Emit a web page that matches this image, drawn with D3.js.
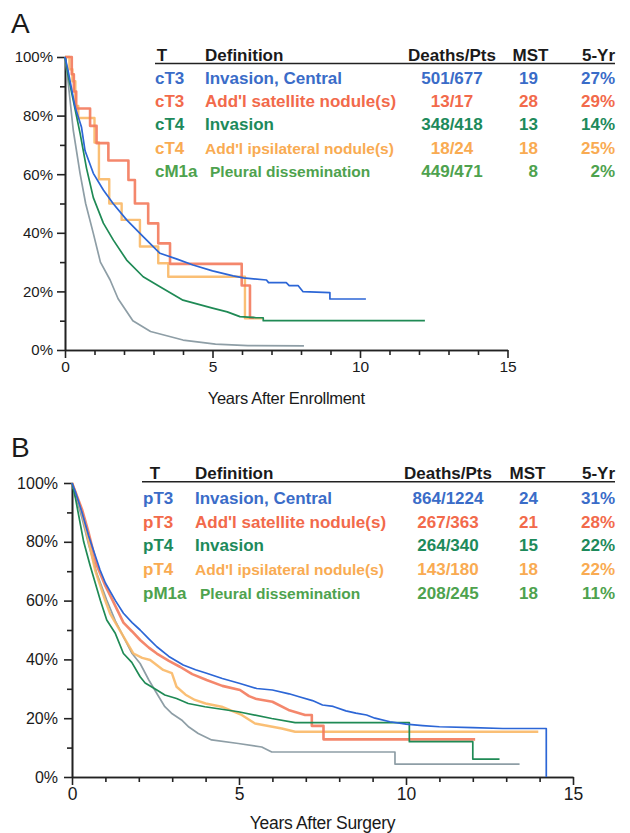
<!DOCTYPE html>
<html><head><meta charset="utf-8">
<script src="https://cdn.jsdelivr.net/npm/d3@7"></script>
<style>
html,body{margin:0;padding:0;background:#fff;}
svg{display:block;font-family:"Liberation Sans",Arial,Helvetica,sans-serif;}
</style></head>
<body>
<svg id="chart" width="630" height="833"></svg>
<script>
// ---------- data ----------
const yTicks = [0, 20, 40, 60, 80, 100];
const yMinorTicks = [10, 30, 50, 70, 90];
const xTicks = [0, 5, 10, 15];
const xMinorTicks = [1, 2, 3, 4, 6, 7, 8, 9, 11, 12, 13, 14];

const tableHeader = ["T", "Definition", "Deaths/Pts", "MST", "5-Yr"];
const definitions = ["Invasion, Central", "Add'l satellite nodule(s)", "Invasion", "Add'l ipsilateral nodule(s)", "Pleural dissemination"];

const codesA = ["cT3", "cT3", "cT4", "cT4", "cM1a"];
const deathsA = ["501/677", "13/17", "348/418", "18/24", "449/471"];
const mstA = [19, 28, 13, 18, 8];
const fiveYrA = ["27%", "29%", "14%", "25%", "2%"];

const codesB = ["pT3", "pT3", "pT4", "pT4", "pM1a"];
const deathsB = ["864/1224", "267/363", "264/340", "143/180", "208/245"];
const mstB = [24, 21, 15, 18, 18];
const fiveYrB = ["31%", "28%", "22%", "22%", "11%"];

// Panel A survival curves [years, % surviving]
const survA_T3central = [[0,100],[0.1,95.6],[0.34,83],[0.56,76],[0.68,68],[0.96,60.3],[1.3,54.6],[1.63,50],[2.09,44.4],[2.65,38.7],[3.22,33],[3.8,31],[4.34,29],[5.0,27],[5.7,25.3],[6.05,24.6],[6.83,23.9],[6.9,23],[7.5,23],[7.6,22],[7.9,22],[8.07,19.9],[8.98,19.6],[8.98,17.4],[10.2,17.4]];
const survA_T3satellite = [[0,100],[0.23,94.1],[0.3,88.2],[0.38,82.4],[0.85,76.5],[1.07,70.6],[1.47,64.7],[2.15,58],[2.37,50],[2.82,43.2],[3.16,36.4],[3.56,29.4],[5.99,22],[6.27,11],[6.4,11]];
const survA_T4invasion = [[0,100],[0.1,94],[0.23,87.6],[0.51,74],[0.73,62],[0.96,52],[1.3,43.3],[1.64,37.5],[2.09,30.7],[2.65,25],[3.22,21.6],[4.0,17],[5.0,14.3],[5.5,13],[5.93,11.4],[6.5,11],[6.72,11],[6.72,10],[12.2,10]];
const survA_T4ipsilateral = [[0,100],[0.15,95.8],[0.25,91.7],[0.35,83.3],[0.45,79.2],[1.0,70.8],[1.15,58.3],[1.5,50],[1.92,44.4],[2.54,35.3],[3.16,29.6],[3.5,25],[6.1,10.8],[6.7,10.8]];
const survA_M1a = [[0,100],[0.1,92],[0.28,75],[0.51,60.3],[0.7,50],[0.96,39.8],[1.2,30],[1.53,23.9],[1.8,17.5],[2.3,10],[2.9,6.3],[4.0,3.4],[5.1,2],[6.2,1.5],[8.1,1.4]];

// Panel B survival curves
const survB_T3central = [[0,100],[0.1,97],[0.3,90],[0.5,82],[0.84,70.4],[1.0,66],[1.3,60],[1.54,55.7],[1.8,52.5],[2.04,50],[2.3,47],[2.54,44.3],[2.9,41],[3.33,38.1],[3.7,36.5],[4.03,35.3],[4.5,33.5],[5.03,31.8],[5.53,30.1],[6.0,29.6],[6.5,28.3],[6.8,27.3],[7.2,26],[7.5,24.5],[7.82,24],[8.2,22.5],[8.5,21.7],[8.82,21.1],[9.07,20],[9.52,18.8],[10.0,18],[10.5,17.5],[11.0,17.1],[12.0,16.8],[12.9,16.5],[14.2,16.5],[14.2,0]];
const survB_T3satellite = [[0,100],[0.1,97],[0.3,91],[0.5,83],[0.74,72],[1.0,65],[1.22,60],[1.54,52.5],[1.8,49.5],[2.04,46.6],[2.3,44],[2.54,42],[2.9,39.5],[3.23,37.5],[3.6,35],[4.03,33],[4.5,31],[5.03,29.6],[5.3,27.5],[5.53,26.5],[6.0,25.6],[6.48,22.8],[6.98,21.1],[7.18,21.1],[7.18,17.4],[7.53,17.4],[7.53,12.8],[12.07,12.8]];
const survB_T4invasion = [[0,100],[0.1,95],[0.35,80],[0.54,72],[0.85,60],[1.04,53.4],[1.29,49],[1.54,42],[1.79,39],[2.04,34.1],[2.19,32],[2.54,29.6],[2.78,27.9],[3.13,26.7],[3.48,25],[3.98,23.9],[4.98,22.2],[5.98,19.9],[6.68,18.5],[10.1,18.5],[10.1,12],[12.0,12],[12.0,6.1],[12.8,6.1]];
const survB_T4ipsilateral = [[0,100],[0.1,97],[0.3,90],[0.5,80],[0.7,70],[0.99,60.2],[1.14,55.6],[1.49,48.8],[1.84,42],[2.1,40.5],[2.34,39.8],[2.73,36.4],[2.99,35.3],[3.13,30.7],[3.4,28],[3.68,26.2],[4.0,25],[4.48,23.9],[5.08,21.1],[5.48,18.2],[6.28,16.5],[6.68,15.4],[13.96,15.4]];
const survB_M1a = [[0,100],[0.1,96],[0.3,88],[0.5,79],[0.75,69],[1.04,60.2],[1.3,53],[1.54,47.7],[1.8,42],[2.04,38.6],[2.3,33],[2.54,28.4],[2.78,23.9],[3.0,21.5],[3.28,19.4],[3.5,17],[3.78,14.8],[4.18,12.6],[4.98,11.4],[5.68,10.2],[5.98,8.5],[9.67,8.5],[9.67,4.4],[13.4,4.4]];

// ---------- styles ----------
const textColors = ["#3a6cc8", "#f26a4b", "#1d8a5b", "#f9ab52", "#4ea24e"];
const lineColors = ["#2c66d6", "#f37a5c", "#1f8a55", "#f9b866", "#8e9ea6"];
const lineWidths = [1.7, 2.6, 1.7, 2.4, 1.7];
const drawOrder = [4, 3, 1, 2, 0];

const svg = d3.select("#chart");

function drawPanel(cfg) {
  const g = svg.append("g");
  const x = d3.scaleLinear().domain([0, 15]).range(cfg.xRange);
  const y = d3.scaleLinear().domain([0, 100]).range(cfg.yRange);

  // panel letter
  g.append("text").attr("x", cfg.letterPos[0]).attr("y", cfg.letterPos[1])
    .attr("font-size", 28).attr("fill", "#1a1a1a").text(cfg.letter);

  // axes
  const y0 = cfg.yRange[0], x0 = cfg.xRange[0];
  const yAx = g.append("g").attr("transform", `translate(${x0},0)`)
    .call(d3.axisLeft(y).tickValues(yTicks).tickSize(cfg.majorTick).tickSizeOuter(0)
      .tickPadding(cfg.yPad).tickFormat(d => d + "%"));
  const yMin = g.append("g").attr("transform", `translate(${x0},0)`)
    .call(d3.axisLeft(y).tickValues(yMinorTicks).tickSize(cfg.minorTick).tickSizeOuter(0).tickFormat(""));
  const xAx = g.append("g").attr("transform", `translate(0,${y0})`)
    .call(d3.axisBottom(x).tickValues(xTicks).tickSize(cfg.majorTick).tickSizeOuter(0)
      .tickPadding(3).tickFormat(d3.format("d")));
  const xMin = g.append("g").attr("transform", `translate(0,${y0})`)
    .call(d3.axisBottom(x).tickValues(xMinorTicks).tickSize(cfg.minorTick).tickSizeOuter(0).tickFormat(""));
  [yAx, yMin, xAx, xMin].forEach(a => {
    a.selectAll("path,line").attr("stroke", "#222").attr("stroke-width", 1.6);
    a.selectAll("text").attr("fill", "#1a1a1a").attr("font-family", "Liberation Sans, Arial, sans-serif");
  });
  yAx.selectAll("text").attr("font-size", cfg.yTickFont);
  xAx.selectAll("text").attr("font-size", cfg.xTickFont);

  g.append("text").attr("x", (cfg.xRange[0] + cfg.xRange[1]) / 2).attr("y", cfg.titleY)
    .attr("text-anchor", "middle").attr("font-size", cfg.titleFont).attr("fill", "#1a1a1a")
    .attr("letter-spacing", -0.3).text(cfg.title);

  // curves
  drawOrder.forEach(i => {
    const line = d3.line().x(d => x(d[0])).y(d => y(d[1]))
      .curve(cfg.stepped[i] ? d3.curveStepAfter : d3.curveLinear);
    g.append("path").datum(cfg.series[i]).attr("d", line)
      .attr("fill", "none").attr("stroke", lineColors[i])
      .attr("stroke-width", lineWidths[i]).attr("stroke-linejoin", "round")
      .attr("opacity", i === 1 || i === 3 ? 0.9 : 1);
  });

  // table
  const t = cfg.table;
  const hy = t.headerY;
  const hdr = g.append("g").attr("font-weight", "bold").attr("font-size", 17).attr("fill", "#1a1a1a");
  hdr.append("text").attr("x", t.tX).attr("y", hy).attr("text-anchor", "middle").text(tableHeader[0]);
  hdr.append("text").attr("x", t.defX).attr("y", hy).text(tableHeader[1]);
  hdr.append("text").attr("x", t.deathX).attr("y", hy).attr("text-anchor", "middle").text(tableHeader[2]);
  hdr.append("text").attr("x", t.mstX).attr("y", hy).attr("text-anchor", "middle").text(tableHeader[3]);
  hdr.append("text").attr("x", 615).attr("y", hy).attr("text-anchor", "end").text(tableHeader[4]);
  g.append("line").attr("x1", t.lineX).attr("x2", 615).attr("y1", t.lineY).attr("y2", t.lineY)
    .attr("stroke", "#222").attr("stroke-width", 1.6);

  const defSizes = [17, 17, 17, 15.5, 15.5];
  cfg.codes.forEach((c, i) => {
    const ry = t.row0 + i * t.rowH;
    const r = g.append("g").attr("font-weight", "bold").attr("fill", textColors[i]).attr("font-size", 17);
    r.append("text").attr("x", t.codeX).attr("y", ry).text(c);
    r.append("text").attr("x", i === 4 ? t.defX + 5 : t.defX).attr("y", ry)
      .attr("font-size", defSizes[i]).text(definitions[i]);
    r.append("text").attr("x", t.deathX).attr("y", ry).attr("text-anchor", "middle").text(cfg.deaths[i]);
    r.append("text").attr("x", 538).attr("y", ry).attr("text-anchor", "end").text(cfg.mst[i]);
    r.append("text").attr("x", 615).attr("y", ry).attr("text-anchor", "end").text(cfg.fiveYr[i]);
  });
}

drawPanel({
  letter: "A", letterPos: [11, 33],
  xRange: [65, 507.5], yRange: [350, 57],
  majorTick: 8, minorTick: 5, yPad: 4, yTickFont: 15, xTickFont: 15.5,
  title: "Years After Enrollment", titleY: 404, titleFont: 16.5,
  series: [survA_T3central, survA_T3satellite, survA_T4invasion, survA_T4ipsilateral, survA_M1a],
  stepped: [false, true, false, true, false],
  codes: codesA, deaths: deathsA, mst: mstA, fiveYr: fiveYrA,
  table: { headerY: 61, lineY: 63.5, lineX: 155, tX: 162, codeX: 155, defX: 205, deathX: 452, mstX: 530.5,
           row0: 84, rowH: 23.2 }
});

drawPanel({
  letter: "B", letterPos: [11, 457],
  xRange: [72, 573], yRange: [777, 483],
  majorTick: 8, minorTick: 5, yPad: 6, yTickFont: 16, xTickFont: 17.5,
  title: "Years After Surgery", titleY: 829, titleFont: 17.5,
  series: [survB_T3central, survB_T3satellite, survB_T4invasion, survB_T4ipsilateral, survB_M1a],
  stepped: [false, false, false, false, false],
  codes: codesB, deaths: deathsB, mst: mstB, fiveYr: fiveYrB,
  table: { headerY: 479, lineY: 481.7, lineX: 142, tX: 155, codeX: 143, defX: 195, deathX: 448, mstX: 527.5,
           row0: 504, rowH: 23.7 }
});
</script>
</body></html>
